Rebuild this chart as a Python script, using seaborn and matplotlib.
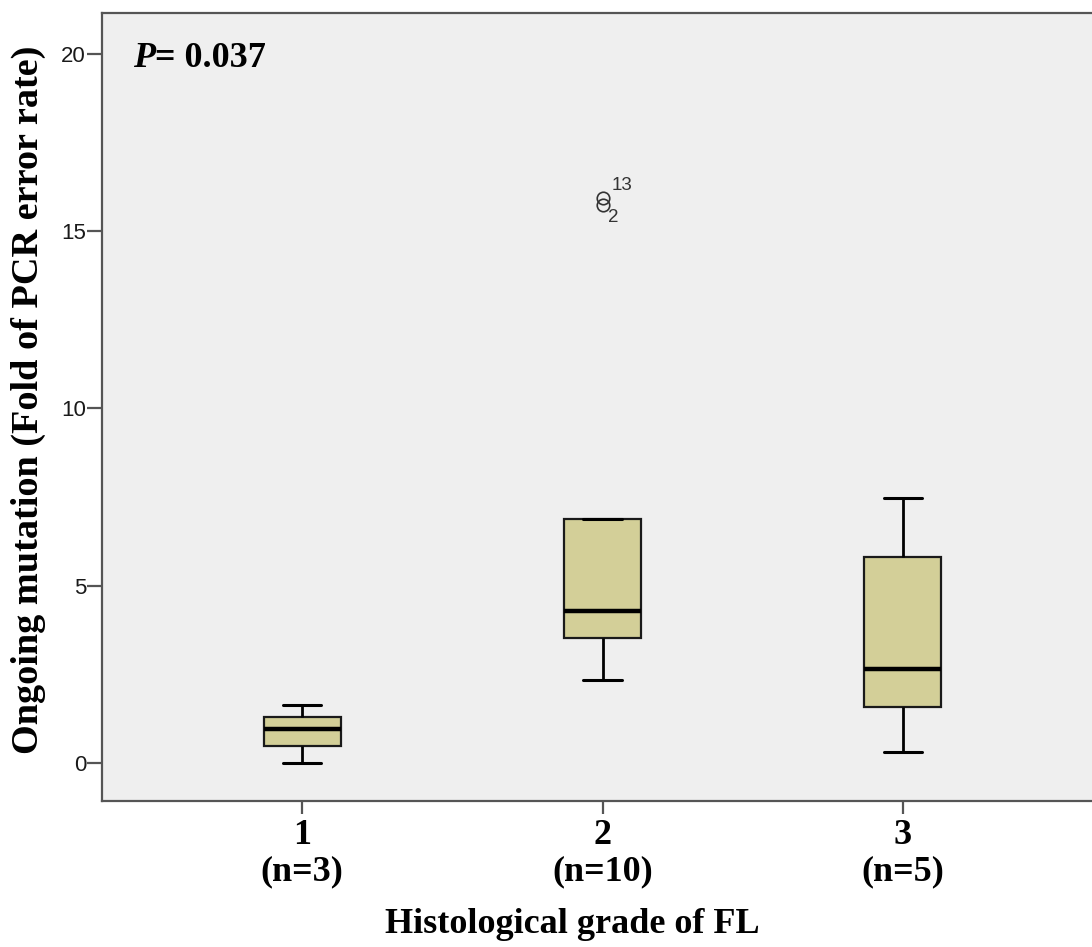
import numpy as np
import pandas as pd
import matplotlib
matplotlib.use("Agg")
import matplotlib.pyplot as plt
import seaborn as sns

# Fold of PCR error rate per case, by histological grade
grade_labels = ["1", "2", "3"]
grade_1 = [0.00, 0.96, 1.64]
grade_2 = [2.34, 2.90, 3.45, 3.77, 4.10, 4.48, 6.88, 6.88, 15.73, 15.92]
grade_3 = [0.31, 1.58, 2.65, 5.81, 7.48]
group_sizes = [3, 10, 5]
outlier_case_ids = ["13", "2"]
p_value_text = "= 0.037"

values = grade_1 + grade_2 + grade_3
grades = (["1"] * len(grade_1)) + (["2"] * len(grade_2)) + (["3"] * len(grade_3))
df = pd.DataFrame({"grade": grades, "value": values})

sns.set_style("ticks")
plt.rcParams["font.family"] = ["Liberation Serif", "DejaVu Serif"]
plt.rcParams["text.color"] = "black"
plt.rcParams["axes.labelcolor"] = "black"
plt.rcParams["xtick.color"] = "#555555"
plt.rcParams["ytick.color"] = "#555555"
plt.rcParams["xtick.labelcolor"] = "black"
plt.rcParams["ytick.labelcolor"] = "#1a1a1a"

fig = plt.figure(figsize=(10.92, 9.47), dpi=100)
fig.patch.set_facecolor("white")
ax = fig.add_axes([102 / 1092, 146 / 947, 1001 / 1092, 788 / 947])
ax.set_facecolor("#efefef")

edge = "#1a1a1a"
sns.boxplot(
    data=df, x="grade", y="value", order=grade_labels, ax=ax,
    color="#d3cf98", saturation=1, width=0.256, linecolor=edge, linewidth=1.6,
    whis=1.5, fliersize=9,
    flierprops=dict(marker="o", markerfacecolor="none",
                    markeredgecolor="#333333", markeredgewidth=1.2),
    medianprops=dict(color="black", linewidth=3.2),
    whiskerprops=dict(color="black", linewidth=2.0),
    capprops=dict(color="black", linewidth=2.2),
)

ax.set_xlim(-0.666, 2.666)
ax.set_ylim(-1.07, 21.15)
ax.set_yticks([0, 5, 10, 15, 20])
ax.set_yticklabels(["0", "5", "10", "15", "20"], family="Liberation Sans",
                   fontsize=16)
ax.set_xticks(range(len(grade_labels)))
ax.set_xticklabels([f"{g}\n(n={n})" for g, n in zip(grade_labels, group_sizes)],
                   fontsize=26, fontweight="bold", linespacing=1.15)

for s in ax.spines.values():
    s.set_visible(True)
    s.set_color("#555555")
    s.set_linewidth(1.6)
ax.tick_params(axis="y", direction="out", length=10.5, width=1.6, pad=1)
ax.tick_params(axis="x", direction="out", length=9, width=1.6, pad=4)

ax.set_xlabel("Histological grade of FL", fontsize=26, fontweight="bold",
              va="center")
ax.xaxis.set_label_coords(0.47, -0.157)
ax.set_ylabel("Ongoing mutation (Fold of PCR error rate)", fontsize=27.5,
              fontweight="bold", va="center")
ax.yaxis.set_label_coords(-0.073, 0.509)

# Case labels beside the outlying points of grade 2
hi, lo = sorted(grade_2)[-1], sorted(grade_2)[-2]
ax.annotate(outlier_case_ids[0], xy=(1, hi), xytext=(14, 9.5),
            textcoords="offset points", ha="center", va="center",
            family="Liberation Sans", fontsize=13.5, color="#333333")
ax.annotate(outlier_case_ids[1], xy=(1, lo), xytext=(7.5, -8.5),
            textcoords="offset points", ha="center", va="center",
            family="Liberation Sans", fontsize=13.5, color="#333333")

# Significance label
t1 = ax.text(0.031, 0.931, "P", transform=ax.transAxes, fontsize=26,
             fontweight="bold", fontstyle="italic", ha="left", va="baseline")
ax.annotate(p_value_text, xy=(1, 0), xycoords=t1, fontsize=26,
            fontweight="bold", ha="left", va="bottom")

fig.savefig("out.png", dpi=100)
